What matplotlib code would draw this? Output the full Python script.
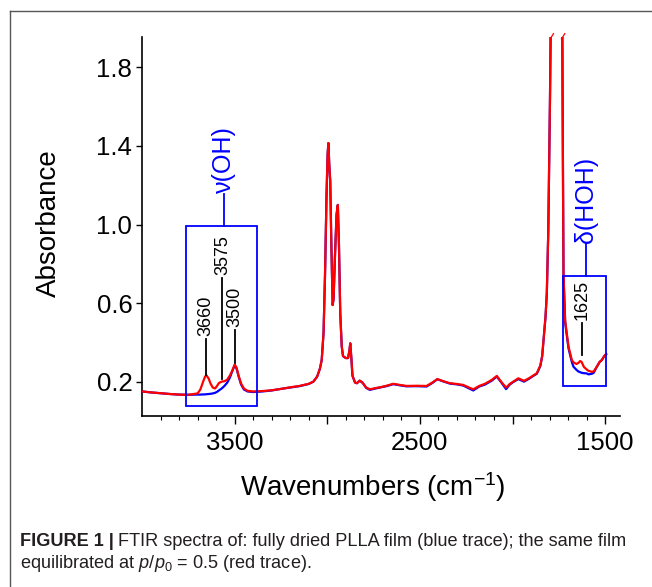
import matplotlib
matplotlib.use("Agg")
import matplotlib.pyplot as plt
from matplotlib.patches import Rectangle
from matplotlib.lines import Line2D
import numpy as np

plt.rcParams['font.family'] = ['Liberation Sans', 'DejaVu Sans']
plt.rcParams['mathtext.fontset'] = 'custom'
plt.rcParams['mathtext.rm'] = 'Liberation Sans'
plt.rcParams['mathtext.it'] = 'Liberation Sans:italic'

# spectra (wavenumber, absorbance)
wavenumber = [4000, 3950, 3900, 3850, 3800, 3750, 3700, 3685, 3670, 3660, 3652, 3640,
              3630, 3618, 3606, 3595, 3585, 3570, 3555, 3540, 3525, 3512, 3500, 3490,
              3478, 3465, 3450, 3430, 3400, 3350, 3300, 3250, 3200, 3150, 3100, 3075,
              3055, 3040, 3030, 3020, 3012, 3004, 2998, 2994, 2989, 2984, 2978, 2971,
              2966, 2958, 2950, 2943, 2937, 2930, 2922, 2915, 2900, 2888, 2880, 2876,
              2870, 2864, 2850, 2840, 2825, 2810, 2790, 2770, 2740, 2716, 2680, 2644,
              2600, 2572, 2520, 2464, 2430, 2406, 2370, 2338, 2300, 2266, 2240, 2212,
              2180, 2149, 2112, 2085, 2060, 2035, 2015, 1996, 1969, 1938, 1910, 1890,
              1869, 1850, 1840, 1832, 1822, 1815, 1807, 1798, 1793, 1760, 1732, 1728,
              1725, 1716, 1698, 1680, 1671, 1655, 1645, 1635, 1627, 1615, 1600, 1590,
              1572, 1562, 1545, 1530, 1518, 1505, 1495]

dried = [0.150, 0.145, 0.141, 0.137, 0.134, 0.133, 0.134, 0.134, 0.135, 0.135, 0.136, 0.137,
         0.138, 0.140, 0.143, 0.148, 0.155, 0.165, 0.178, 0.195, 0.222, 0.255, 0.282, 0.268,
         0.225, 0.185, 0.160, 0.150, 0.147, 0.150, 0.155, 0.163, 0.170, 0.177, 0.188, 0.200,
         0.225, 0.265, 0.310, 0.450, 0.750, 1.150, 1.360, 1.415, 1.300, 1.220, 0.900, 0.590,
         0.620, 0.850, 1.050, 1.100, 0.900, 0.550, 0.380, 0.330, 0.320, 0.320, 0.360, 0.395,
         0.320, 0.230, 0.195, 0.192, 0.205, 0.195, 0.168, 0.158, 0.165, 0.170, 0.177, 0.187,
         0.180, 0.176, 0.177, 0.175, 0.195, 0.212, 0.200, 0.190, 0.186, 0.180, 0.168, 0.155,
         0.175, 0.185, 0.205, 0.226, 0.195, 0.162, 0.185, 0.198, 0.213, 0.200, 0.215, 0.228,
         0.240, 0.280, 0.330, 0.420, 0.530, 0.650, 0.970, 1.630, 2.100, 3.000, 2.100, 1.300,
         0.740, 0.500, 0.370, 0.300, 0.276, 0.260, 0.252, 0.248, 0.245, 0.243, 0.242, 0.237,
         0.240, 0.245, 0.276, 0.300, 0.310, 0.330, 0.340]

wet = [0.150, 0.145, 0.141, 0.137, 0.134, 0.133, 0.140, 0.160, 0.200, 0.225, 0.232, 0.215,
       0.190, 0.170, 0.165, 0.178, 0.193, 0.200, 0.202, 0.210, 0.232, 0.258, 0.287, 0.272,
       0.228, 0.190, 0.165, 0.153, 0.150, 0.152, 0.156, 0.163, 0.171, 0.178, 0.189, 0.200,
       0.225, 0.265, 0.310, 0.450, 0.750, 1.150, 1.360, 1.415, 1.300, 1.220, 0.900, 0.590,
       0.620, 0.850, 1.050, 1.100, 0.900, 0.550, 0.380, 0.330, 0.320, 0.320, 0.360, 0.395,
       0.320, 0.230, 0.195, 0.192, 0.205, 0.195, 0.170, 0.161, 0.167, 0.171, 0.179, 0.189,
       0.182, 0.178, 0.179, 0.178, 0.197, 0.213, 0.201, 0.192, 0.188, 0.183, 0.172, 0.161,
       0.178, 0.189, 0.209, 0.229, 0.198, 0.170, 0.188, 0.200, 0.217, 0.204, 0.218, 0.230,
       0.243, 0.282, 0.330, 0.420, 0.530, 0.650, 0.970, 1.630, 2.100, 3.000, 2.100, 1.300,
       0.750, 0.510, 0.378, 0.310, 0.298, 0.290, 0.295, 0.305, 0.300, 0.275, 0.262, 0.255,
       0.250, 0.252, 0.276, 0.300, 0.310, 0.330, 0.340]

# band labels: (wavenumber, line bottom, line top, text)
band_labels = [(3653, 0.236, 0.416, "3660"),
               (3566, 0.212, 0.726, "3575"),
               (3498, 0.294, 0.463, "3500"),
               (1626, 0.336, 0.497, "1625")]

BLUE = '#0000ff'
RED = '#ff0000'

fig = plt.figure(figsize=(6.52, 5.87), dpi=100)
W, H = 652, 587
ax = fig.add_axes([142 / W, 1 - 416 / H, (620 - 142) / W, (416 - 37) / H])

ax.plot(wavenumber, dried, color=BLUE, lw=1.6, zorder=3)
ax.plot(wavenumber, wet, color=RED, lw=1.6, zorder=4)

ax.set_xlim(4000, 1420)
ax.set_ylim(0.025, 1.955)

# truncation marks at top of the C=O band
for w in (1793, 1732):
    ax.plot([w + 4, w - 14], [1.945, 1.972], color=RED, lw=0.9, clip_on=False, zorder=5)

# boxes and assignments
ax.add_patch(Rectangle((3765, 0.076), 3380 - 3765, 0.992 - 0.076, fill=False,
                       ec=BLUE, lw=1.3, zorder=6))
ax.add_patch(Rectangle((1725, 0.178), 1495 - 1725, 0.739 - 0.178, fill=False,
                       ec=BLUE, lw=1.3, zorder=6))
ax.plot([3559, 3559], [0.992, 1.155], color=BLUE, lw=1.3, zorder=6)
ax.text(3559, 1.162, "ν(OH)", color=BLUE, fontsize=18, rotation=90,
        ha='center', va='bottom')
ax.plot([1603, 1603], [0.739, 0.90], color=BLUE, lw=1.3, zorder=6)
ax.text(1603, 0.908, "δ(HOH)", color=BLUE, fontsize=18, rotation=90,
        ha='center', va='bottom')

for w, y0, y1, lab in band_labels:
    ax.plot([w, w], [y0, y1], color='black', lw=1.3, zorder=6)
    ax.text(w, y1 + 0.015, lab, color='black', fontsize=13, rotation=90,
            ha='center', va='bottom')

ax.spines['top'].set_visible(False)
ax.spines['right'].set_visible(False)
for s in ('left', 'bottom'):
    ax.spines[s].set_linewidth(1.2)

ax.set_xticks([3500, 3000, 2500, 2000, 1500])
ax.set_xticklabels(['3500', '', '2500', '', '1500'])
ax.set_xticks(np.arange(3900, 1400, -100), minor=True)
ax.set_yticks([0.2, 0.6, 1.0, 1.4, 1.8])
ax.set_yticklabels(['0.2', '0.6', '1.0', '1.4', '1.8'])
ax.tick_params(axis='x', which='major', length=5.5, width=1.0, labelsize=18.5, pad=5)
ax.tick_params(axis='x', which='minor', length=3, width=0.8)
ax.tick_params(axis='y', which='major', length=4, width=1.0, labelsize=18.5, pad=3)

fig.text(49 / W, 1 - 223 / H, "Absorbance", rotation=90, fontsize=20,
         ha='center', va='center')
fig.text(373 / W, 1 - 487 / H, r"Wavenumbers (cm$^{\mathregular{-1}}$)", fontsize=20,
         ha='center', va='center')

# outer frame of the figure panel
fig.add_artist(Line2D([10 / W, 10 / W], [0, 1 - 11 / H], color='#555555', lw=1.0))
fig.add_artist(Line2D([10 / W, 1], [1 - 11 / H, 1 - 11 / H], color='#555555', lw=1.0))

# caption
cap_color = '#231f20'
cap_size = 13.1
renderer = fig.canvas.get_renderer()
t1 = fig.text(20 / W, 1 - 541 / H, "FIGURE 1 |", fontsize=cap_size, fontweight='bold',
              color=cap_color, ha='left', va='center')
bb = t1.get_window_extent(renderer)
fig.text(bb.x1 / W + 4 / W, 1 - 541 / H,
         "FTIR spectra of: fully dried PLLA film (blue trace); the same film",
         fontsize=cap_size, color=cap_color, ha='left', va='center')
fig.text(20 / W, 1 - 564 / H, r"equilibrated at $p/p_{\mathregular{0}}$ = 0.5 (red trace).",
         fontsize=cap_size, color=cap_color, ha='left', va='center')

fig.savefig("out.png", dpi=100)
